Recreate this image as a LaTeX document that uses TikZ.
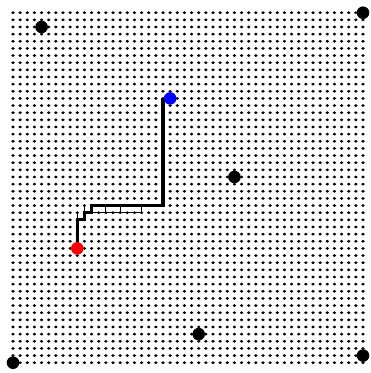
\documentclass[tikz,border=0pt]{standalone}
\usepackage{tikz}
\definecolor{rouge}{HTML}{FF0000}
\definecolor{bleu}{HTML}{0000FF}

\begin{document}
\begin{tikzpicture}[x=7.143pt,y=7.143pt]
  \useasboundingbox (-1.82,-1.44) rectangle (49.98,50.78);
  % grille
  \foreach \i in {0,...,49} {
    \foreach \j in {0,...,49} {
      \fill (\i,\j) ellipse (1.8pt and 1.5pt);
    }
  }
  % obstacles
  \foreach \i/\j in {4/47,49/49,31/26,26/4,49/1,0/0} {
    \fill (\i,\j) circle (6.3pt);
  }
  \coordinate (depart) at (9,16);
  \coordinate (arrivee) at (22,37);
  % cases explorees
  \draw[line width=1pt] (9,20) -- (9,21) (10,21) -- (10,22) (11,21) -- (18,21)
    (13,21) -- (13,22) (15,21) -- (15,22) (18,21) -- (18,22);
  % chemin
  \draw[line width=3.2pt] (depart) |- (10,20) |- (11,21) |- (21,22) -- (21,37);
  \fill[rouge] (depart) circle (6.3pt);
  \fill[bleu] (arrivee) circle (6.3pt);
\end{tikzpicture}
\end{document}
